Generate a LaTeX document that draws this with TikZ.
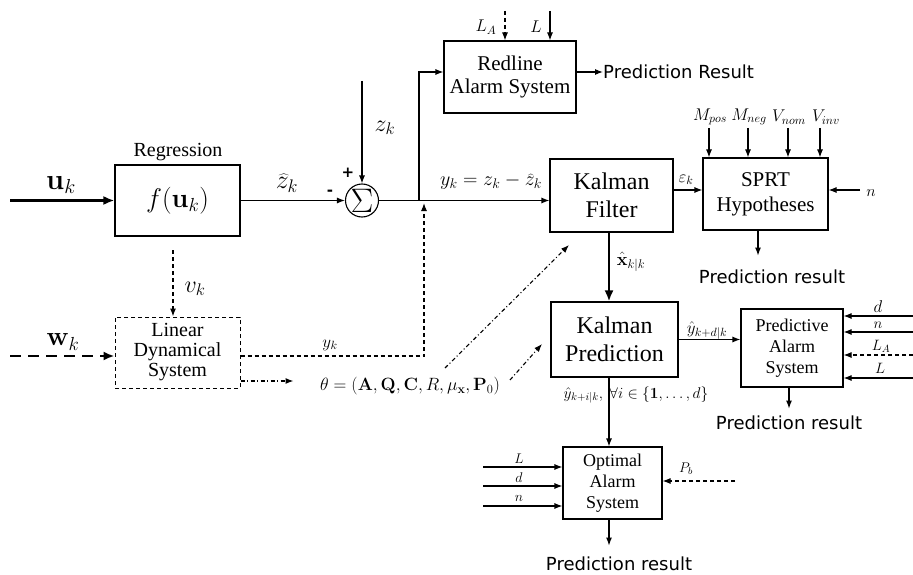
\RequirePackage{fix-cm}
\documentclass[tikz,border=0pt]{standalone}
\usepackage[no-math]{fontspec}
\setmainfont{Liberation Serif}
\newfontfamily\resfont{DejaVu Sans}
\usetikzlibrary{arrows.meta,calc}
\newcommand\fsz[2]{\fontsize{#1}{#2}\selectfont}
\tikzset{
  blk/.style={draw, line width=1.1pt, inner sep=0pt, align=center},
  ar/.style={line width=1.1pt, -{Latex[length=8pt,width=6pt]}},
  thk/.style={line width=2.7pt, -{Latex[length=11pt,width=9pt]}},
  dsh/.style={dash pattern=on 4pt off 3pt},
  thickdsh/.style={dash pattern=on 11pt off 7pt},
  dd/.style={dash pattern=on 4pt off 2.5pt on 1pt off 2.5pt},
  res/.style={inner sep=0pt, font=\fsz{18}{20}\resfont},
  lbl/.style={inner sep=0pt},
}
\begin{document}
\begin{tikzpicture}[x=1pt,y=-1pt]
\useasboundingbox (0,0) rectangle (913,575);

% ---- blocks ----
\node[blk,minimum width=125pt,minimum height=71pt] (reg) at (177.5,200.5) {\fsz{27}{30}$f(\mathbf{u}_k)$};
\node[lbl,font=\fsz{20}{22}] (regl) at (178,152) {Regression};
\node[circle,draw,line width=1.1pt,minimum size=33pt,inner sep=0pt] (sum) at (362,200.5) {};
\node[lbl,font=\fsz{34}{34}] (sig) at (sum.center) {$\Sigma$};
\node[blk,minimum width=132pt,minimum height=72pt,font=\fsz{21}{23}] (red) at (510,77) {Redline\\Alarm System};
\node[blk,minimum width=123pt,minimum height=73pt,font=\fsz{24}{28.5}] (kf) at (611.5,195.5) {Kalman\\Filter};
\node[blk,minimum width=125pt,minimum height=72pt,font=\fsz{21}{25}] (sprt) at (765.5,194) {SPRT\\Hypotheses};
\node[blk,minimum width=127pt,minimum height=75pt,font=\fsz{24}{28.5}] (kp) at (614.5,339.5) {Kalman\\Prediction};
\node[blk,minimum width=102pt,minimum height=78pt,font=\fsz{18}{21}] (pas) at (792,348) {Predictive\\Alarm\\System};
\node[blk,minimum width=99pt,minimum height=72pt,font=\fsz{18}{21}] (oas) at (612.5,483) {Optimal\\Alarm\\System};
\node[blk,dsh,line width=1pt,minimum width=125pt,minimum height=71pt,font=\fsz{20}{20}] (lds) at (177.5,352.5) {Linear\\Dynamical\\System};

% ---- regression path ----
\coordinate (uin) at (10,200.5);
\draw[thk] (uin) -- (reg.west);
\node[lbl,font=\fsz{29}{30}] (ul) at (61,185) {$\mathbf{u}_k$};
\draw[ar] (reg.east) -- (sum.west);
\node[lbl,font=\fsz{26}{27}] (zhl) at (287,183) {$\widehat{z}_k$};
\node[lbl,font=\fsz{15}{15}\resfont\bfseries] (minus) at (330,193) {-};
\node[lbl,font=\fsz{15}{15}\resfont\bfseries] (plus) at (348,173) {+};
\coordinate (zin) at (362,81);
\draw[ar] (zin) -- (sum.north);
\node[lbl,font=\fsz{24}{25}] (zl) at (385,128) {$z_k$};

% ---- residual to Kalman filter and redline ----
\coordinate (br) at (419,200.5);
\draw[ar] (sum.east) -- (sum.east -| kf.west);
\draw[ar] (br) |- ([yshift=5pt]red.west);
\node[lbl,font=\fsz{20}{21}] (yeq) at (491,182) {$y_k = z_k - \widehat{z}_k$};

\coordinate (lain) at (505,11);
\coordinate (lin) at (550,11);
\draw[ar,dsh] (lain) -- (lain |- red.north);
\draw[ar] (lin) -- (lin |- red.north);
\node[lbl,font=\fsz{17}{18}] (lal) at (486,27) {$L_A$};
\node[lbl,font=\fsz{17}{18}] (ll) at (536,27) {$L$};
\node[res,anchor=west] (pr1) at (603,72) {Prediction Result};
\draw[ar] ([yshift=5pt]red.east) -- (pr1.west);

% ---- SPRT ----
\draw[ar] ([yshift=5.5pt]kf.east) -- ([yshift=5.5pt]kf.east -| sprt.west);
\node[lbl,font=\fsz{17}{18}] (epsl) at (686,180) {$\varepsilon_k$};
\foreach \px/\nm in {709/mp, 748/mn, 788/vn, 820/vi}{
  \coordinate (\nm) at (\px,128);
  \draw[ar] (\nm) -- (\nm |- sprt.north);
}
\node[lbl,font=\fsz{17}{18}] (mpl) at (710,117) {$M_{pos}$};
\node[lbl,font=\fsz{17}{18}] (mnl) at (749,117) {$M_{neg}$};
\node[lbl,font=\fsz{17}{18}] (vnl) at (789,117) {$V_{nom}$};
\node[lbl,font=\fsz{17}{18}] (vil) at (826,117) {$V_{inv}$};
\coordinate (nin) at (860,190);
\draw[ar] (nin) -- (nin -| sprt.east);
\node[lbl,font=\fsz{16}{17}] (nl) at (871,193) {$n$};
\node[res] (pr2) at (772,277) {Prediction result};
\draw[ar] ([xshift=-7.5pt]sprt.south) -- ++(0,25);

% ---- Kalman prediction ----
\draw[thk] ([xshift=-2.5pt]kf.south) -- ([xshift=-2.5pt]kf.south |- kp.north);
\node[lbl,font=\fsz{18}{19}] (xl) at (631,262) {$\hat{\mathbf{x}}_{k|k}$};
\draw[ar] (kp.east) -- (kp.east -| pas.west);
\node[lbl,font=\fsz{17}{18}] (ydl) at (707,331) {$\hat{y}_{k+d|k}$};

% ---- predictive alarm ----
\foreach \py/\nm in {316/pd, 332/pn, 378/pl}{
  \coordinate (\nm) at (913,\py);
  \draw[ar] (\nm) -- (\nm -| pas.east);
}
\coordinate (pla) at (913,355);
\draw[ar,dsh] (pla) -- (pla -| pas.east);
\node[lbl,font=\fsz{17}{18}] (pdl) at (878,307) {$d$};
\node[lbl,font=\fsz{15}{16}] (pnl) at (878,325) {$n$};
\node[lbl,font=\fsz{15}{16}] (plal) at (881,346) {$L_A$};
\node[lbl,font=\fsz{15}{16}] (pll) at (880,368) {$L$};
\node[res] (pr3) at (789,423) {Prediction result};
\draw[ar] ([xshift=-3pt]pas.south) -- ++(0,21);

% ---- optimal alarm ----
\node[lbl,font=\fsz{15.5}{16}] (yil) at (636,395) {$\hat{y}_{k+i|k},\ \forall i\in\{\mathbf{1},\ldots,d\}$};
\draw[ar] ([xshift=-3.5pt]oas.north |- kp.south) -- ([xshift=-3.5pt]oas.north);
\foreach \py/\nm in {467/ol, 486/od, 506/on}{
  \coordinate (\nm) at (483,\py);
  \draw[ar] (\nm) -- (\nm -| oas.west);
}
\node[lbl,font=\fsz{14}{15}] (oll) at (519,459) {$L$};
\node[lbl,font=\fsz{14}{15}] (odl) at (519,478) {$d$};
\node[lbl,font=\fsz{14}{15}] (onl) at (519,498) {$n$};
\coordinate (pbin) at (735,481);
\draw[ar,dsh] (pbin) -- (pbin -| oas.east);
\node[lbl,font=\fsz{14}{15}] (pbl) at (686,469) {$P_b$};
\node[res] (pr4) at (619,564) {Prediction result};
\draw[ar] ([xshift=-3.5pt]oas.south) -- ++(0,26);

% ---- linear dynamical system ----
\coordinate (vin) at (173,250);
\draw[ar,dsh] (vin) -- (vin |- lds.north);
\node[lbl,font=\fsz{24}{25}] (vl) at (195,289) {$v_k$};
\coordinate (win) at (10,356);
\draw[thk,thickdsh] (win) -- (win -| lds.west);
\node[lbl,font=\fsz{27}{28}] (wl) at (63,342) {$\mathbf{w}_k$};
\coordinate (yk2) at (424,203);
\draw[ar,dsh] ([yshift=-3.5pt]lds.east) -| (yk2);
\node[lbl,font=\fsz{17}{18}] (ykl) at (330,345) {$y_k$};
\draw[ar,dd] ([yshift=-28.5pt]lds.east) -- ++(53,0);
\node[lbl,font=\fsz{17.8}{19}] (theta) at (410,386) {$\theta=(\mathbf{A},\mathbf{Q},\mathbf{C},R,\mu_{\mathbf{x}},\mathbf{P}_0)$};
\coordinate (t1) at (445,368);
\coordinate (t2) at (569,245);
\coordinate (t3) at (510,380);
\coordinate (t4) at (542,344);
\draw[ar,dd] (t1) -- (t2);
\draw[ar,dd] (t3) -- (t4);
\end{tikzpicture}
\end{document}
